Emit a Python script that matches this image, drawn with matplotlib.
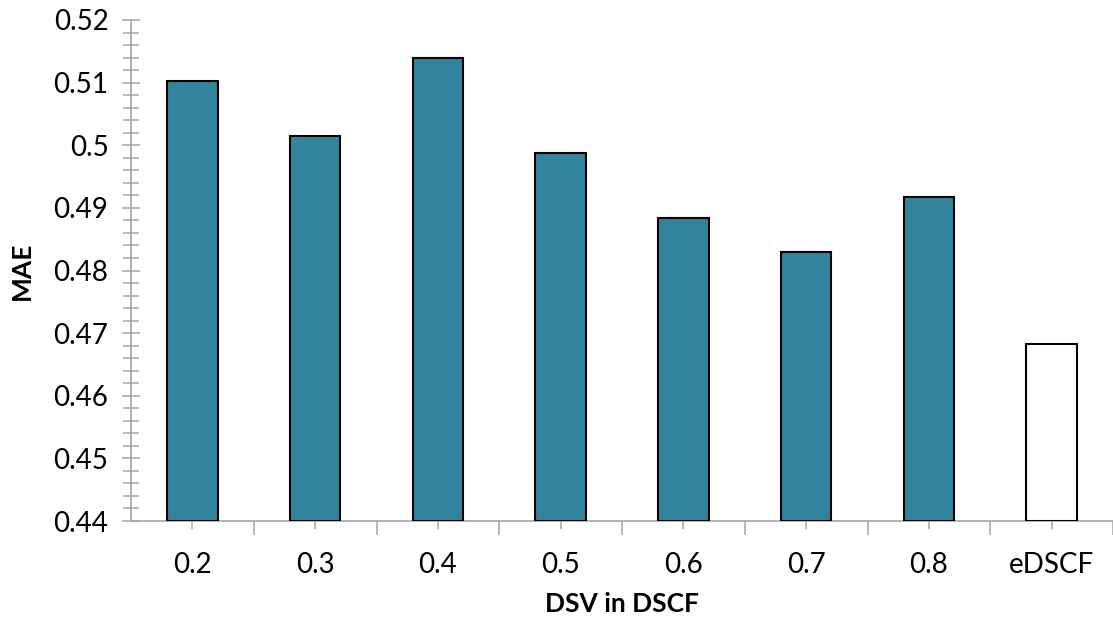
import matplotlib.pyplot as plt
import numpy as np
from matplotlib.ticker import FixedLocator, MultipleLocator

categories = ["0.2", "0.3", "0.4", "0.5", "0.6", "0.7", "0.8", "eDSCF"]
mae = [0.5103, 0.5015, 0.5139, 0.4988, 0.4884, 0.4830, 0.4917, 0.4682]
bar_colors = ["#31849b"] * 7 + ["#ffffff"]

plt.rcParams["font.family"] = ["Lato", "DejaVu Sans"]

fig = plt.figure(figsize=(11.13, 6.21), dpi=100)
ax = fig.add_axes([0.1177, 0.161, 0.8823, 0.8068])

x = np.arange(len(categories))
ax.bar(x, np.array(mae) - 0.44, bottom=0.44, width=0.41,
       color=bar_colors, edgecolor="black", linewidth=1.5, zorder=3)

ax.set_xlim(-0.5, len(categories) - 0.5)
ax.set_ylim(0.44, 0.52)

ax.yaxis.set_minor_locator(MultipleLocator(0.002))
ax.set_yticks(np.arange(0.44, 0.5201, 0.01))
ax.set_yticklabels(["0.44", "0.45", "0.46", "0.47", "0.48", "0.49", "0.5", "0.51", "0.52"])

ax.set_xticks(x)
ax.set_xticklabels(categories)
ax.xaxis.set_minor_locator(FixedLocator(np.arange(0.5, len(categories), 1.0)))

gray = "#a6a6a6"
for side in ("top", "right"):
    ax.spines[side].set_visible(False)
for side in ("left", "bottom"):
    ax.spines[side].set_color(gray)
    ax.spines[side].set_linewidth(1.2)

ax.tick_params(axis="y", which="major", direction="inout", length=12.5, width=1.1,
               color=gray, labelsize=20, pad=10)
ax.tick_params(axis="y", which="minor", direction="inout", length=11, width=1.1, color=gray)
ax.tick_params(axis="x", which="major", direction="inout", length=11, width=1.1,
               color=gray, labelsize=20, pad=17)
ax.tick_params(axis="x", which="minor", direction="out", length=10, width=1.1, color=gray)

ax.set_xlabel("DSV in DSCF", fontsize=19, fontweight="bold", labelpad=10)
ax.set_ylabel("MAE", fontsize=19, fontweight="bold", labelpad=14)

fig.savefig("out.png", dpi=100)
